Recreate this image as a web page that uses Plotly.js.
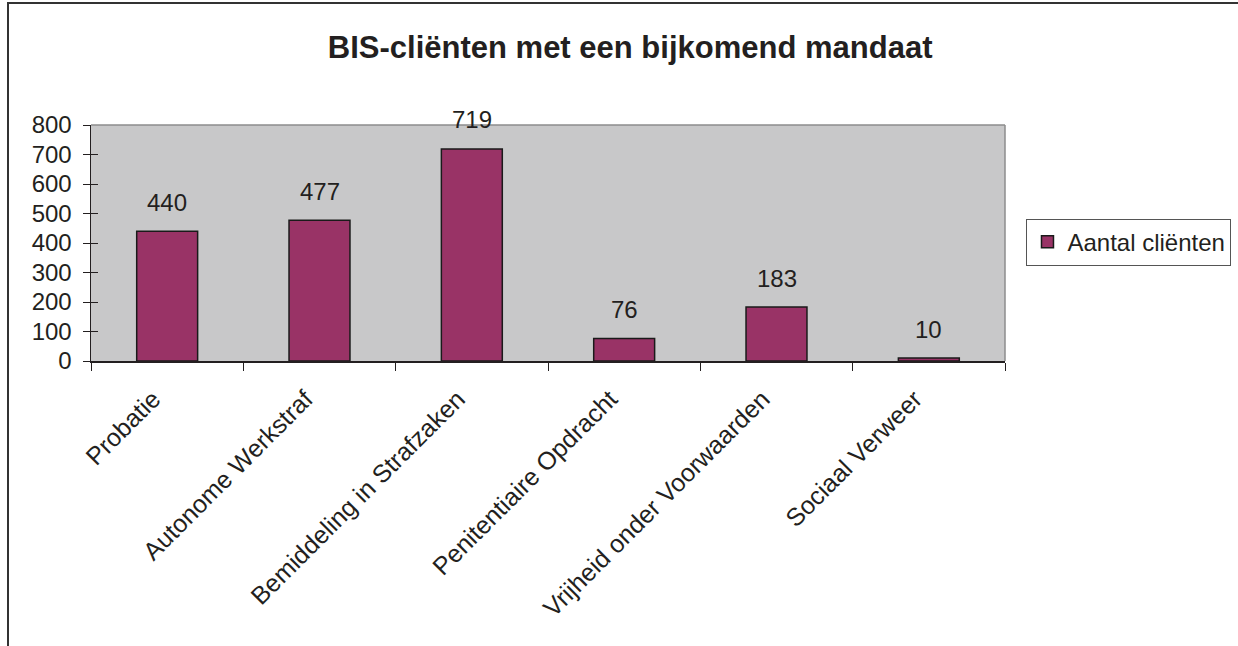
<!DOCTYPE html>
<html>
<head>
<meta charset="utf-8">
<script src="https://cdn.plot.ly/plotly-3.0.1.min.js"></script>
<style>
html,body{margin:0;padding:0;background:#fff;}
#frame{position:absolute;left:0;top:0;width:1238px;height:646px;overflow:hidden;}
#border{position:absolute;left:7px;top:2px;width:1240px;height:660px;border-top:2px solid #333;border-left:2px solid #333;pointer-events:none;}
#chart{position:absolute;left:0;top:0;width:1238px;height:646px;}
</style>
</head>
<body>
<div id="frame">
<div id="chart"></div>
<div id="border"></div>
</div>
<script>
const categories = ["Probatie","Autonome Werkstraf","Bemiddeling in Strafzaken","Penitentiaire Opdracht","Vrijheid onder Voorwaarden","Sociaal Verweer"];
const values = [440, 477, 719, 76, 183, 10];
const seriesName = "Aantal cliënten";
const yTickVals = [0,100,200,300,400,500,600,700,800];

const font = "Liberation Sans, Arial, sans-serif";
const trace = {
  type: 'bar', x: categories, y: values, name: seriesName,
  marker: {color: '#993366', line: {color: '#1a1a1a', width: 1.5}},
  showlegend: true, hoverinfo: 'skip'
};
const annotations = categories.map((c, i) => ({
  x: c, y: values[i], xref: 'x', yref: 'y', text: String(values[i]),
  showarrow: false, yanchor: 'middle', yshift: 29,
  font: {family: font, size: 24, color: '#231f20'}
}));
const layout = {
  width: 1238, height: 646,
  margin: {l: 91, r: 233, t: 125, b: 285, autoexpand: false},
  paper_bgcolor: 'rgba(0,0,0,0)', plot_bgcolor: '#c8c8c9',
  font: {family: font, color: '#231f20'},
  title: {text: '<b>BIS-cliënten met een bijkomend mandaat</b>', xref: 'container', x: 0.509, xanchor: 'center', yref: 'container', y: 1 - 47/646, yanchor: 'middle', font: {family: font, size: 31, color: '#231f20'}},
  bargap: 0.6,
  xaxis: {type: 'category', showline: true, linecolor: '#231f20', linewidth: 1.5, ticks: 'outside', ticklen: 8, tickwidth: 1, tickcolor: '#231f20', tickson: 'boundaries', tickangle: -45, ticklabelstandoff: 12, ticklabelshift: -14, tickfont: {family: font, size: 25, color: '#231f20'}, showgrid: false, zeroline: false, fixedrange: true},
  yaxis: {range: [0, 800], tickvals: yTickVals, showline: true, linecolor: '#231f20', linewidth: 1.5, ticks: 'outside', ticklen: 7, tickwidth: 1, tickcolor: '#231f20', tickfont: {family: font, size: 24, color: '#231f20'}, ticklabelstandoff: 6, showgrid: false, zeroline: false, fixedrange: true},
  yaxis2: {overlaying: 'y', range: [0, 800], tickvals: yTickVals, ticks: 'inside', ticklen: 7, tickwidth: 1, tickcolor: '#231f20', showticklabels: false, showgrid: false, zeroline: false, showline: false, side: 'left', fixedrange: true},
  shapes: [
    {type: 'line', xref: 'paper', yref: 'paper', x0: 0, x1: 1, y0: 1, y1: 1, line: {color: '#8c8c8c', width: 1.5}},
    {type: 'line', xref: 'paper', yref: 'paper', x0: 1, x1: 1, y0: 0, y1: 1, line: {color: '#8c8c8c', width: 1.5}}
  ],
  legend: {x: 1.0235, xanchor: 'left', y: 0.504, yanchor: 'middle', bordercolor: '#555', borderwidth: 1, bgcolor: '#fff', font: {family: font, size: 24, color: '#231f20'}, itemwidth: 30, tracegroupgap: 0},
  annotations: annotations
};
const dummy = {type: 'scatter', x: [categories[0]], y: [0], yaxis: 'y2', mode: 'none', showlegend: false, hoverinfo: 'skip'};
Plotly.newPlot('chart', [trace, dummy], layout, {staticPlot: true});
</script>
</body>
</html>
